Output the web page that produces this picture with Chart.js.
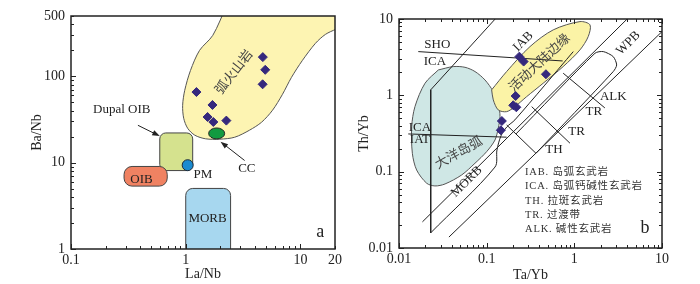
<!DOCTYPE html>
<html>
<head>
<meta charset="utf-8">
<script src="https://cdn.jsdelivr.net/npm/chart.js@4.4.0/dist/chart.umd.min.js"></script>
<style>
  body { margin: 0; background: #fff; width: 700px; height: 284px; overflow: hidden; position: relative; }
  .panel { position: absolute; top: 0; width: 350px; height: 284px; }
</style>
</head>
<body>
<div class="panel" style="left:0"><canvas id="chartA"></canvas></div>
<div class="panel" style="left:350px"><canvas id="chartB"></canvas></div>
<script>
// ---------- panel a : Ba/Nb vs La/Nb ----------
const aSampleLaNb = [1.24, 4.70, 4.93, 4.68, 1.71, 1.55, 1.74, 2.26];
const aSampleBaNb = [65.8, 167, 119, 80.9, 46.6, 33.8, 29.6, 30.7];

// arc volcanic field outline
const arcLaNb = [2.26, 1.72, 1.32, 1.10, 0.98, 0.94, 0.96, 1.04, 1.20, 1.49, 1.98, 2.67, 3.60, 4.58, 5.71, 6.97, 8.35, 10.4, 13.5, 16.5, 20.5, 26, 26, 2.26];
const arcBaNb = [650, 298, 200, 117, 68.9, 46.2, 32.7, 25.0, 20.8, 18.9, 18.7, 19.7, 23.8, 29.4, 40.5, 61.9, 97.3, 153, 241, 306, 352, 400, 650, 650];

// reservoir boxes [min, max]
const dupalLaNb = [0.594, 1.15], dupalBaNb = [8.1, 22.1];
const oibLaNb = [0.29, 0.69], oibBaNb = [5.35, 9.04];
const morbLaNb = [1.0, 2.46], morbBaNb = [0.85, 5.03];
const pmLaNb = [1.04], pmBaNb = [9.35];
const ccLaNb = 1.86, ccBaNb = 21.8;

const aXLabels = [0.1, 1, 10, 20];
const aYLabels = [1, 10, 100, 500];

// ---------- panel b : Th/Yb vs Ta/Yb ----------
const bSampleTaYb = [0.236, 0.264, 0.474, 0.214, 0.201, 0.218, 0.149, 0.145];
const bSampleThYb = [3.21, 2.77, 1.89, 0.98, 0.741, 0.698, 0.461, 0.349];

const oceanArcTaYb = [0.0281, 0.0198, 0.0152, 0.01396, 0.0142, 0.0159, 0.0207, 0.0257, 0.0335, 0.0519, 0.0736, 0.1, 0.1245, 0.1355, 0.142, 0.1355, 0.119, 0.0957, 0.0736, 0.0566, 0.0416, 0.0281];
const oceanArcThYb = [2.15, 1.44, 0.711, 0.389, 0.174, 0.105, 0.0705, 0.065, 0.069, 0.0906, 0.129, 0.183, 0.26, 0.371, 0.526, 0.787, 1.12, 1.59, 2.05, 2.33, 2.38, 2.15];

const activeMarginTaYb = [0.114, 0.169, 0.312, 0.574, 1.16, 1.51, 1.44, 1.16, 0.746, 0.441, 0.286, 0.21, 0.169, 0.1355, 0.119, 0.114];
const activeMarginThYb = [1.18, 2.05, 4.35, 7.2, 9.25, 8.37, 5.88, 3.94, 2.38, 1.44, 0.962, 0.711, 0.611, 0.644, 0.871, 1.18];

const wpbTaYb = [0.365, 2.78, 3.04, 2.78, 2.14, 1.72, 0.216];
const wpbThYb = [0.174, 2.05, 2.5, 3.21, 3.74, 3.56, 0.312];

const vLineTaYb = [0.125, 0.0230, 0.0230], vLineThYb = [10, 1.18, 0.0158];
const shoIcaTaYb = [0.0166, 0.736], shoIcaThYb = [3.74, 2.82];
const icaIatTaYb = [0.01276, 0.169], icaIatThYb = [0.312, 0.283];
const upperArrayTaYb = [0.0185, 4.0], upperArrayThYb = [0.022, 10];
const lowerArrayTaYb = [0.0371, 10], lowerArrayThYb = [0.0139, 6.84];
const morbLowTaYb = [0.0230, 0.1245, 0.131, 0.1455, 0.170, 0.210, 0.973];
const morbLowThYb = [0.0158, 0.115, 0.192, 0.294, 0.386, 0.477, 3.74];
const alkTrTaYb = [0.746, 2.23], alkTrThYb = [1.95, 0.684];
const trThTaYb = [0.326, 0.891], trThThYb = [0.711, 0.236];
const thEndTaYb = [0.169, 0.365], thEndThYb = [0.409, 0.174];

const bLabels = [0.01, 0.1, 1, 10];

const SERIF = "'Liberation Serif', 'Noto Sans CJK SC', serif";

function xy(xs, ys) { return xs.map((x, i) => ({ x: x, y: ys[i] })); }

function lineSet(xs, ys, extra) {
    return Object.assign({
        data: xy(xs, ys), showLine: true, pointRadius: 0, borderColor: '#222',
        borderWidth: 1, fill: false, tension: 0, order: 3
    }, extra || {});
}

function logTicks(min, max) {
    const out = [];
    for (let d = min; d < max * 1.0001; d *= 10) {
        for (let m = 1; m < 10; m++) {
            const v = +(m * d).toPrecision(3);
            if (v >= min * 0.9999 && v <= max * 1.0001) out.push(v);
        }
    }
    return out;
}

function logAxis(o) {
    return {
        type: 'logarithmic', min: o.min, max: o.max,
        grid: { display: false, drawTicks: false }, border: { display: false },
        afterBuildTicks: s => { s.ticks = logTicks(o.min, o.max).map(v => ({ value: v })); },
        afterFit: s => { if (s.isHorizontal()) s.height = o.fit; else s.width = o.fit; },
        ticks: {
            autoSkip: false, maxRotation: 0, padding: o.tickPad, color: '#222',
            font: { family: SERIF, size: 14 },
            callback: v => o.labels.some(l => Math.abs(l - v) < l * 1e-6) ? String(v) : ''
        },
        title: { display: true, text: o.title, color: '#222', font: { family: SERIF, size: 14 }, padding: o.titlePad }
    };
}

// frame, inward ticks, boxes, texts and arrows
function figPlugin(cfg) {
    return {
        id: 'fig',
        beforeDatasetsDraw(chart) {
            const { ctx, chartArea: a, scales: { x, y } } = chart;
            ctx.save();
            ctx.beginPath();
            ctx.rect(a.left, a.top, a.width, a.height);
            ctx.clip();
            (cfg.boxes || []).forEach(b => {
                const x0 = x.getPixelForValue(b.x[0]), x1 = x.getPixelForValue(b.x[1]);
                const y0 = y.getPixelForValue(b.y[1]), y1 = y.getPixelForValue(b.y[0]);
                ctx.beginPath();
                ctx.roundRect(x0, y0, x1 - x0, y1 - y0, b.r);
                ctx.fillStyle = b.color;
                ctx.fill();
                ctx.strokeStyle = '#444';
                ctx.lineWidth = 1;
                ctx.stroke();
            });
            ctx.restore();
        },
        afterDatasetsDraw(chart) {
            const { ctx, scales: { x, y } } = chart;
            (cfg.ellipses || []).forEach(e => {
                ctx.save();
                ctx.beginPath();
                ctx.ellipse(x.getPixelForValue(e.x), y.getPixelForValue(e.y), e.rx, e.ry, 0, 0, Math.PI * 2);
                ctx.fillStyle = e.color;
                ctx.fill();
                ctx.strokeStyle = '#222';
                ctx.lineWidth = 1;
                ctx.stroke();
                ctx.restore();
            });
        },
        afterDraw(chart) {
            const { ctx, chartArea: a, scales: { x, y } } = chart;
            const isMajor = v => Math.abs(Math.log10(v) - Math.round(Math.log10(v))) < 1e-6;
            ctx.save();
            ctx.strokeStyle = '#222';
            ctx.lineWidth = 1;
            ctx.beginPath();
            x.ticks.forEach(t => {
                const px = Math.round(x.getPixelForValue(t.value)) + 0.5;
                const len = isMajor(t.value) ? 5 : 3;
                ctx.moveTo(px, a.bottom); ctx.lineTo(px, a.bottom - len);
                if (cfg.mirror) { ctx.moveTo(px, a.top); ctx.lineTo(px, a.top + len); }
            });
            y.ticks.forEach(t => {
                const py = Math.round(y.getPixelForValue(t.value)) + 0.5;
                const len = isMajor(t.value) ? 5 : 3;
                ctx.moveTo(a.left, py); ctx.lineTo(a.left + len, py);
                if (cfg.mirror) { ctx.moveTo(a.right, py); ctx.lineTo(a.right - len, py); }
            });
            ctx.stroke();
            ctx.lineWidth = 1.5;
            ctx.strokeRect(a.left, a.top, a.width, a.height);

            // arrows
            (cfg.arrows || []).forEach(ar => {
                const fx = x.getPixelForValue(ar.from[0]), fy = y.getPixelForValue(ar.from[1]);
                const tx = x.getPixelForValue(ar.to[0]), ty = y.getPixelForValue(ar.to[1]);
                const ang = Math.atan2(ty - fy, tx - fx);
                ctx.lineWidth = 1;
                ctx.beginPath();
                ctx.moveTo(fx, fy);
                ctx.lineTo(tx - 5 * Math.cos(ang), ty - 5 * Math.sin(ang));
                ctx.stroke();
                ctx.beginPath();
                ctx.moveTo(tx, ty);
                ctx.lineTo(tx - 8 * Math.cos(ang - 0.35), ty - 8 * Math.sin(ang - 0.35));
                ctx.lineTo(tx - 8 * Math.cos(ang + 0.35), ty - 8 * Math.sin(ang + 0.35));
                ctx.closePath();
                ctx.fillStyle = '#222';
                ctx.fill();
            });

            // texts
            (cfg.notes || []).forEach(n => {
                ctx.save();
                ctx.translate(x.getPixelForValue(n.x), y.getPixelForValue(n.y));
                ctx.rotate((n.rot || 0) * Math.PI / 180);
                ctx.font = (n.size || 13) + 'px ' + SERIF;
                ctx.fillStyle = n.color || '#222';
                ctx.textAlign = n.align || 'center';
                ctx.textBaseline = 'middle';
                if (n.spacing) ctx.letterSpacing = n.spacing;
                ctx.fillText(n.t, 0, 0);
                ctx.restore();
            });
            ctx.restore();
        }
    };
}

// ---------- chart a ----------
new Chart(document.getElementById('chartA'), {
    type: 'scatter',
    data: {
        datasets: [
            {
                data: xy(aSampleLaNb, aSampleBaNb), pointStyle: 'rectRot', pointRadius: 4.5,
                backgroundColor: '#35287d', borderColor: '#35287d', order: 0
            },
            {
                data: xy(pmLaNb, pmBaNb), pointStyle: 'circle', pointRadius: 5.5,
                backgroundColor: '#1b8bd0', borderColor: '#1d2b3a', borderWidth: 1, order: 1
            },
            lineSet(arcLaNb, arcBaNb, { fill: 'shape', backgroundColor: '#fdf4b2', borderColor: '#555', tension: 0.3, order: 5 })
        ]
    },
    options: {
        responsive: true, maintainAspectRatio: false, animation: false, events: [],
        layout: { padding: { top: 16, right: 15, left: 0, bottom: 0 } },
        plugins: { legend: { display: false }, tooltip: { enabled: false } },
        scales: {
            x: logAxis({ min: 0.1, max: 20, labels: aXLabels, fit: 35, tickPad: 3, title: 'La/Nb', titlePad: { top: 0, bottom: 1 } }),
            y: logAxis({ min: 1, max: 500, labels: aYLabels, fit: 71, tickPad: 6, title: 'Ba/Nb', titlePad: { top: 29, bottom: 0 } })
        }
    },
    plugins: [figPlugin({
        mirror: false,
        boxes: [
            { x: dupalLaNb, y: dupalBaNb, color: '#d5e28e', r: 6 },
            { x: oibLaNb, y: oibBaNb, color: '#f08262', r: 8 },
            { x: morbLaNb, y: morbBaNb, color: '#a7d7ef', r: 7 }
        ],
        ellipses: [{ x: ccLaNb, y: ccBaNb, rx: 8, ry: 5.5, color: '#129a40' }],
        arrows: [
            { from: [0.383, 27.1], to: [0.594, 20.3] },
            { from: [3.26, 10.6], to: [2.01, 17.5] }
        ],
        notes: [
            { t: 'Dupal OIB', x: 0.277, y: 41.5 },
            { t: 'OIB', x: 0.412, y: 6.45 },
            { t: 'PM', x: 1.41, y: 7.36 },
            { t: 'MORB', x: 1.55, y: 2.26 },
            { t: 'CC', x: 3.41, y: 8.48 },
            { t: 'a', x: 14.9, y: 1.57, size: 18 },
            { t: '弧火山岩', x: 2.67, y: 111, rot: -52, size: 13, color: '#444' }
        ]
    })]
});

// ---------- chart b ----------
new Chart(document.getElementById('chartB'), {
    type: 'scatter',
    data: {
        datasets: [
            {
                data: xy(bSampleTaYb, bSampleThYb), pointStyle: 'rectRot', pointRadius: 4.5,
                backgroundColor: '#35287d', borderColor: '#35287d', order: 0
            },
            lineSet(vLineTaYb, vLineThYb),
            lineSet(shoIcaTaYb, shoIcaThYb),
            lineSet(icaIatTaYb, icaIatThYb),
            lineSet(upperArrayTaYb, upperArrayThYb),
            lineSet(lowerArrayTaYb, lowerArrayThYb),
            lineSet(morbLowTaYb, morbLowThYb, { tension: 0.3 }),
            lineSet(alkTrTaYb, alkTrThYb),
            lineSet(trThTaYb, trThThYb),
            lineSet(thEndTaYb, thEndThYb),
            lineSet(wpbTaYb, wpbThYb, { tension: 0.25 }),
            lineSet(activeMarginTaYb, activeMarginThYb, { fill: 'shape', backgroundColor: '#fbf3a6', borderColor: '#555', tension: 0.3, order: 5 }),
            lineSet(oceanArcTaYb, oceanArcThYb, { fill: 'shape', backgroundColor: '#cfe7e5', borderColor: '#555', tension: 0.3, order: 6 })
        ]
    },
    options: {
        responsive: true, maintainAspectRatio: false, animation: false, events: [],
        layout: { padding: { top: 19, right: 38, left: 0, bottom: 0 } },
        plugins: { legend: { display: false }, tooltip: { enabled: false } },
        scales: {
            x: logAxis({ min: 0.01, max: 10, labels: bLabels, fit: 36, tickPad: 3, title: 'Ta/Yb', titlePad: { top: 0, bottom: 0 } }),
            y: logAxis({ min: 0.01, max: 10, labels: bLabels, fit: 49, tickPad: 6, title: 'Th/Yb', titlePad: { top: 6, bottom: 0 } })
        }
    },
    plugins: [figPlugin({
        mirror: true,
        notes: [
            { t: 'SHO', x: 0.0274, y: 4.58 },
            { t: 'ICA', x: 0.0257, y: 2.77 },
            { t: 'IAB', x: 0.261, y: 5.06, rot: -45 },
            { t: '活动大陆边缘', x: 0.405, y: 2.64, rot: -43, size: 13, color: '#444' },
            { t: 'ICA', x: 0.01734, y: 0.378 },
            { t: 'IAT', x: 0.01734, y: 0.26 },
            { t: '大洋岛弧', x: 0.0483, y: 0.174, rot: -29, size: 13, color: '#444' },
            { t: 'MORB', x: 0.0591, y: 0.074, rot: -45 },
            { t: 'WPB', x: 4.12, y: 4.82, rot: -45 },
            { t: 'ALK', x: 2.78, y: 0.962 },
            { t: 'TR', x: 1.67, y: 0.611 },
            { t: 'TR', x: 1.06, y: 0.334 },
            { t: 'TH', x: 0.585, y: 0.197 },
            { t: 'b', x: 6.38, y: 0.0183, size: 18 },
            { t: 'IAB. 岛弧玄武岩', x: 0.274, y: 0.0971, size: 10.5, align: 'left', spacing: '0.8px', color: '#333' },
            { t: 'ICA. 岛弧钙碱性玄武岩', x: 0.274, y: 0.065, size: 10.5, align: 'left', spacing: '0.8px', color: '#333' },
            { t: 'TH. 拉斑玄武岩', x: 0.274, y: 0.0413, size: 10.5, align: 'left', spacing: '0.8px', color: '#333' },
            { t: 'TR. 过渡带', x: 0.274, y: 0.0268, size: 10.5, align: 'left', spacing: '0.8px', color: '#333' },
            { t: 'ALK. 碱性玄武岩', x: 0.274, y: 0.0176, size: 10.5, align: 'left', spacing: '0.8px', color: '#333' }
        ]
    })]
});
</script>
</body>
</html>
